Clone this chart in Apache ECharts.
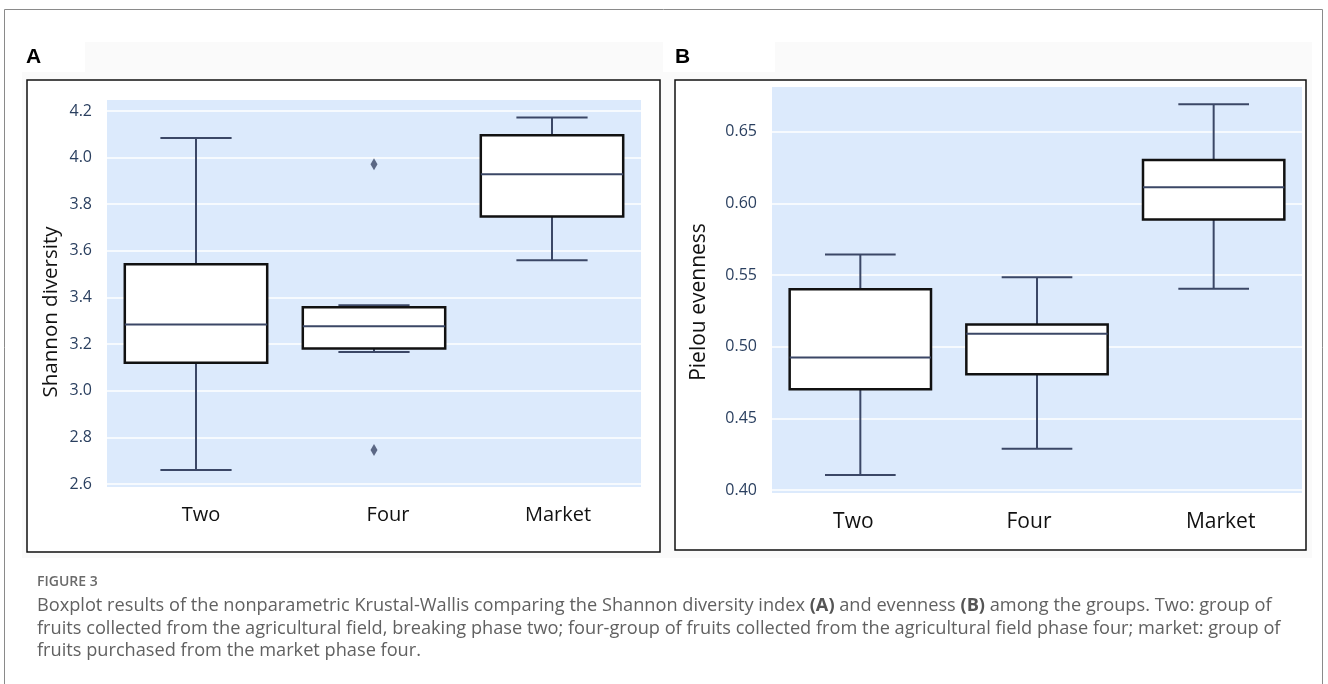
<!DOCTYPE html>
<html>
<head>
<meta charset="utf-8">
<title>Figure 3 – Shannon diversity and Pielou evenness</title>
<script src="https://cdn.jsdelivr.net/npm/echarts@6/dist/echarts.min.js"></script>
<style>
  html, body { margin: 0; padding: 0; background: #ffffff; }
  #chart { width: 1328px; height: 684px; }
</style>
</head>
<body>
<div id="chart"></div>
<script>
// Groups compared in both panels
const groups = ['Two', 'Four', 'Market'];

// Five-number summaries per group: [lower whisker, Q1, median, Q3, upper whisker]
const shannonStats = [
  [2.660, 3.120, 3.284, 3.543, 4.084],
  [3.166, 3.181, 3.276, 3.358, 3.367],
  [3.560, 3.747, 3.929, 4.096, 4.172]
];
const shannonOutliers = [
  ['Four', 3.971],
  ['Four', 2.746]
];
const shannonTicks = [2.6, 2.8, 3.0, 3.2, 3.4, 3.6, 3.8, 4.0, 4.2];

const pielouStats = [
  [0.4104, 0.4703, 0.4924, 0.5400, 0.5644],
  [0.4288, 0.4807, 0.5090, 0.5155, 0.5484],
  [0.5405, 0.5887, 0.6113, 0.6303, 0.6692]
];
const pielouTicks = [0.40, 0.45, 0.50, 0.55, 0.60, 0.65];

const captionHead = 'FIGURE 3';
const captionLines = [
  'Boxplot results of the nonparametric Krustal-Wallis comparing the Shannon diversity index {b|(A)} and evenness {b|(B)} among the groups. Two: group of',
  'fruits collected from the agricultural field, breaking phase two; four-group of fruits collected from the agricultural field phase four; market: group of',
  'fruits purchased from the market phase four.'
];

const FONT = '"Open Sans", "Noto Sans", sans-serif';
const WHISKER = '#3b4766';
const BOX_EDGE = '#111111';
const PLOT_BG = '#dceafc';
const CAPTION_FONT = '"Open Sans", "Noto Sans", sans-serif';

// Box-and-whisker glyph drawn through the axes' own coordinate mapping
function renderBox(params, api) {
  const cat = api.value(0);
  const lo = api.coord([cat, api.value(1)]);
  const q1 = api.coord([cat, api.value(2)]);
  const med = api.coord([cat, api.value(3)]);
  const q3 = api.coord([cat, api.value(4)]);
  const hi = api.coord([cat, api.value(5)]);
  const band = api.size([1, 0])[0];
  const bw = band * 0.8;
  const cw = band * 0.4;
  const x = med[0];
  const lineStyle = { stroke: WHISKER, lineWidth: 2 };
  return {
    type: 'group',
    children: [
      { type: 'line', shape: { x1: x, y1: hi[1], x2: x, y2: q3[1] }, style: lineStyle },
      { type: 'line', shape: { x1: x, y1: q1[1], x2: x, y2: lo[1] }, style: lineStyle },
      { type: 'line', shape: { x1: x - cw / 2, y1: hi[1], x2: x + cw / 2, y2: hi[1] }, style: lineStyle },
      { type: 'line', shape: { x1: x - cw / 2, y1: lo[1], x2: x + cw / 2, y2: lo[1] }, style: lineStyle },
      {
        type: 'rect',
        shape: { x: x - bw / 2, y: q3[1], width: bw, height: q1[1] - q3[1] },
        style: { fill: '#ffffff', stroke: BOX_EDGE, lineWidth: 2.5 }
      },
      { type: 'line', shape: { x1: x - bw / 2, y1: med[1], x2: x + bw / 2, y2: med[1] }, style: lineStyle }
    ]
  };
}

function boxData(stats) {
  return stats.map((s, i) => [i].concat(s));
}

function valueAxis(gridIndex, min, max, ticks, fmt) {
  return {
    type: 'value',
    gridIndex: gridIndex,
    min: min,
    max: max,
    axisLine: { show: false },
    axisTick: { show: false, customValues: ticks },
    axisLabel: {
      customValues: ticks,
      formatter: v => v.toFixed(fmt),
      fontFamily: FONT,
      fontSize: 16,
      color: '#2a3f5f',
      margin: 15
    },
    splitLine: { show: true, lineStyle: { color: '#ffffff', width: 1.5 } }
  };
}

// Category labels sit a little off their band centres; shifts in px (+ = right)
function categoryAxis(gridIndex, margin, fontSize, shifts) {
  const rich = {};
  shifts.forEach((d, i) => {
    rich['c' + i] = {
      fontFamily: FONT,
      fontSize: fontSize,
      color: '#111111',
      padding: d >= 0 ? [0, 0, 0, 2 * d] : [0, -2 * d, 0, 0]
    };
  });
  return {
    type: 'category',
    gridIndex: gridIndex,
    data: groups,
    axisLine: { show: false },
    axisTick: { show: false },
    axisLabel: {
      margin: margin,
      formatter: (v, i) => '{c' + i + '|' + v + '}',
      rich: rich
    },
    splitLine: { show: false }
  };
}

const chart = echarts.init(document.getElementById('chart'), null, { renderer: 'canvas' });

chart.setOption({
  backgroundColor: '#ffffff',
  animation: false,
  grid: [
    { left: 107, top: 100, width: 534, height: 387, show: true, backgroundColor: PLOT_BG, borderWidth: 0 },
    { left: 772, top: 87, width: 530, height: 406, show: true, backgroundColor: PLOT_BG, borderWidth: 0 }
  ],
  xAxis: [
    categoryAxis(0, 18, 20, [5, 14, 6]),
    categoryAxis(1, 19, 21, [-7, -8, 7])
  ],
  yAxis: [
    valueAxis(0, 2.587, 4.247, shannonTicks, 1),
    valueAxis(1, 0.3979, 0.6812, pielouTicks, 2)
  ],
  graphic: [
    // page frame
    { type: 'rect', z: -20, shape: { x: 4.5, y: 9.5, width: 1318, height: 690 }, style: { fill: '#ffffff', stroke: '#8a8a8a', lineWidth: 1 } },
    // faint figure backdrop
    { type: 'rect', z: -19, shape: { x: 22, y: 42, width: 1290, height: 516 }, style: { fill: '#fafafa' } },
    { type: 'rect', z: -18, shape: { x: 22, y: 42, width: 63, height: 30 }, style: { fill: '#ffffff' } },
    { type: 'rect', z: -18, shape: { x: 663, y: 42, width: 112, height: 30 }, style: { fill: '#ffffff' } },
    // panel frames
    { type: 'rect', z: -17, shape: { x: 27, y: 80, width: 633, height: 472 }, style: { fill: '#ffffff', stroke: '#111111', lineWidth: 1.5 } },
    { type: 'rect', z: -17, shape: { x: 675, y: 80, width: 631, height: 470 }, style: { fill: '#ffffff', stroke: '#111111', lineWidth: 1.5 } },
    // panel letters
    { type: 'text', x: 26, y: 57, style: { text: 'A', font: 'bold 21px "Liberation Sans", Arial, sans-serif', fill: '#000000', verticalAlign: 'middle' } },
    { type: 'text', x: 675, y: 57, style: { text: 'B', font: 'bold 21px "Liberation Sans", Arial, sans-serif', fill: '#000000', verticalAlign: 'middle' } },
    // y-axis titles
    { type: 'text', x: 51, y: 312, rotation: Math.PI / 2, style: { text: 'Shannon diversity', font: '20.5px ' + FONT, fill: '#111111', align: 'center', verticalAlign: 'middle' } },
    { type: 'text', x: 699, y: 302, rotation: Math.PI / 2, style: { text: 'Pielou evenness', font: '21px ' + FONT, fill: '#111111', align: 'center', verticalAlign: 'middle' } },
    // caption
    { type: 'text', x: 37, y: 582, style: { text: captionHead, font: '600 14px ' + CAPTION_FONT, fill: '#6a6a6a', verticalAlign: 'middle' } },
    ...captionLines.map((line, i) => ({
      type: 'text',
      x: 37,
      y: 605.7 + i * 22.7,
      style: {
        text: line,
        font: '18.2px ' + CAPTION_FONT,
        fill: '#616161',
        verticalAlign: 'middle',
        rich: {
          b: { font: 'bold 18.2px ' + CAPTION_FONT, fill: '#555555' }
        }
      }
    }))
  ],
  series: [
    {
      type: 'custom',
      xAxisIndex: 0,
      yAxisIndex: 0,
      renderItem: renderBox,
      encode: { x: 0, y: [1, 2, 3, 4, 5] },
      data: boxData(shannonStats),
      z: 3
    },
    {
      type: 'scatter',
      xAxisIndex: 0,
      yAxisIndex: 0,
      symbol: 'diamond',
      symbolSize: [7, 12],
      itemStyle: { color: WHISKER },
      data: shannonOutliers,
      z: 4
    },
    {
      type: 'custom',
      xAxisIndex: 1,
      yAxisIndex: 1,
      renderItem: renderBox,
      encode: { x: 0, y: [1, 2, 3, 4, 5] },
      data: boxData(pielouStats),
      z: 3
    }
  ]
});
</script>
</body>
</html>
